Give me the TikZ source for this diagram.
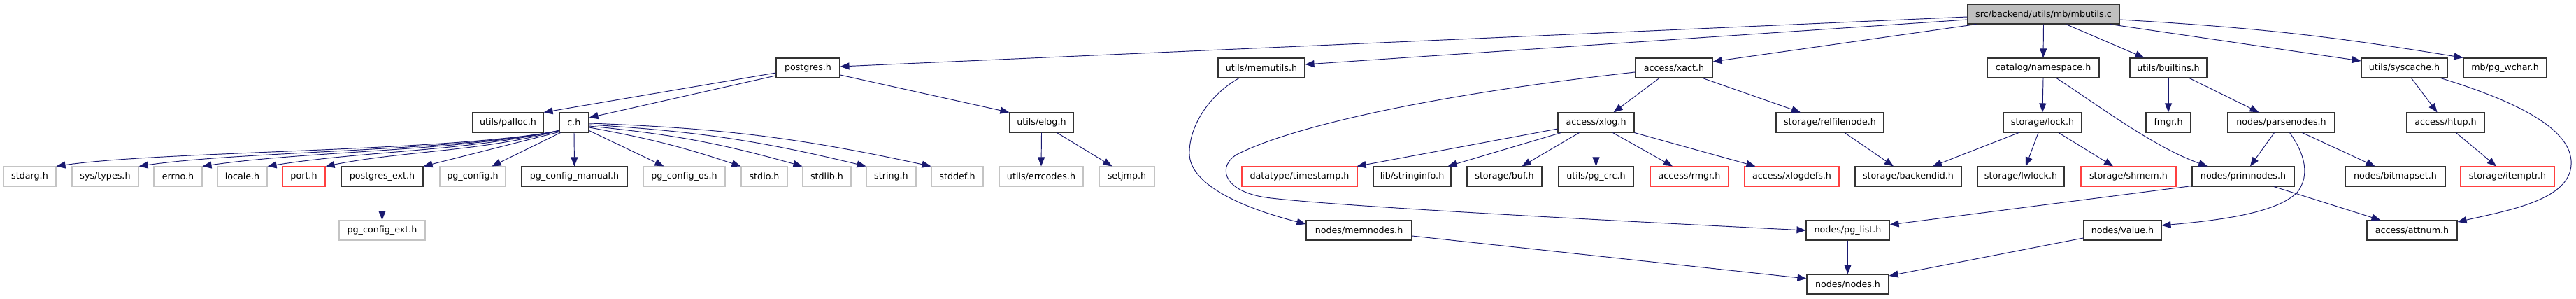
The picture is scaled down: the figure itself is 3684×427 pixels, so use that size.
\documentclass[tikz,border=0pt]{standalone}
\usepackage{fontspec}
\setmainfont{DejaVu Sans}
\usetikzlibrary{arrows.meta,calc}
\definecolor{edgecol}{HTML}{191970}
\definecolor{graybd}{HTML}{C4C4C4}
\definecolor{redbd}{HTML}{FF4040}
\definecolor{rootfill}{HTML}{BFBFBF}
\begin{document}
\begin{tikzpicture}[x=1pt,y=-1pt,
  nbox/.style={draw=black!80,line width=1.1pt,minimum height=28pt,inner sep=0pt,
     font=\fontsize{12.7}{14}\selectfont,fill=white},
  gbox/.style={nbox,draw=graybd},
  rbox/.style={nbox,draw=redbd},
  rootbox/.style={nbox,fill=rootfill},
  dep/.style={draw=edgecol,line width=0.95pt,-{Triangle[length=13pt,width=10pt]}}]
\useasboundingbox (0,0) rectangle (3684,427);
% row 0
\node[rootbox,minimum width=217pt] (root) at (2922.5,20) {src/backend/utils/mb/mbutils.c};
% row 1
\node[nbox,minimum width=91pt]  (pgh)       at (1155.5,97) {postgres.h};
\node[nbox,minimum width=124pt] (memutils)  at (1804,97)   {utils/memutils.h};
\node[nbox,minimum width=110pt] (xact)      at (2394,97)   {access/xact.h};
\node[nbox,minimum width=160pt] (namespace) at (2922,97)   {catalog/namespace.h};
\node[nbox,minimum width=110pt] (builtins)  at (3101,97)   {utils/builtins.h};
\node[nbox,minimum width=123pt] (syscache)  at (3438.5,97) {utils/syscache.h};
\node[nbox,minimum width=119pt] (pgwchar)   at (3582.5,97) {mb/pg\_wchar.h};
% row 2
\node[nbox,minimum width=101pt] (palloc)      at (726.5,175)  {utils/palloc.h};
\node[nbox,minimum width=42pt]  (ch)          at (821,175)    {c.h};
\node[nbox,minimum width=91pt]  (elog)        at (1489.5,175) {utils/elog.h};
\node[nbox,minimum width=109pt] (xlog)        at (2282.5,175) {access/xlog.h};
\node[nbox,minimum width=154pt] (relfilenode) at (2617,175)   {storage/relfilenode.h};
\node[nbox,minimum width=112pt] (lock)        at (2921,175)   {storage/lock.h};
\node[nbox,minimum width=64pt]  (fmgr)        at (3101,175)   {fmgr.h};
\node[nbox,minimum width=153pt] (parsenodes)  at (3262.5,175) {nodes/parsenodes.h};
\node[nbox,minimum width=111pt] (htup)        at (3497.5,175) {access/htup.h};
% row 3
\node[gbox,minimum width=75pt]  (stdarg)     at (42.5,252)   {stdarg.h};
\node[gbox,minimum width=95pt]  (systypes)   at (150.5,252)  {sys/types.h};
\node[gbox,minimum width=69pt]  (errno)      at (254.5,252)  {errno.h};
\node[gbox,minimum width=71pt]  (locale)     at (346.5,252)  {locale.h};
\node[rbox,minimum width=61pt]  (port)       at (434.5,252)  {port.h};
\node[nbox,minimum width=117pt] (pgext)      at (546.5,252)  {postgres\_ext.h};
\node[gbox,minimum width=94pt]  (pgconfig)   at (676,252)    {pg\_config.h};
\node[nbox,minimum width=151pt] (pgcm)       at (821.5,252)  {pg\_config\_manual.h};
\node[gbox,minimum width=117pt] (pgcos)      at (978.5,252)  {pg\_config\_os.h};
\node[gbox,minimum width=66pt]  (stdio)      at (1093,252)   {stdio.h};
\node[gbox,minimum width=69pt]  (stdlib)     at (1182.5,252) {stdlib.h};
\node[gbox,minimum width=71pt]  (string)     at (1274.5,252) {string.h};
\node[gbox,minimum width=74pt]  (stddef)     at (1369,252)   {stddef.h};
\node[gbox,minimum width=120pt] (errcodes)   at (1489,252)   {utils/errcodes.h};
\node[gbox,minimum width=79pt]  (setjmp)     at (1611.5,252) {setjmp.h};
\node[rbox,minimum width=165pt] (timestamp)  at (1858.5,252) {datatype/timestamp.h};
\node[nbox,minimum width=111pt] (stringinfo) at (2019.5,252) {lib/stringinfo.h};
\node[nbox,minimum width=107pt] (buf)        at (2151.5,252) {storage/buf.h};
\node[nbox,minimum width=107pt] (pgcrc)      at (2282.5,252) {utils/pg\_crc.h};
\node[rbox,minimum width=112pt] (rmgr)       at (2416,252)   {access/rmgr.h};
\node[rbox,minimum width=135pt] (xlogdefs)   at (2562.5,252) {access/xlogdefs.h};
\node[nbox,minimum width=152pt] (backendid)  at (2729,252)   {storage/backendid.h};
\node[nbox,minimum width=124pt] (lwlock)     at (2890,252)   {storage/lwlock.h};
\node[rbox,minimum width=136pt] (shmem)      at (3044,252)   {storage/shmem.h};
\node[nbox,minimum width=146pt] (primnodes)  at (3208,252)   {nodes/primnodes.h};
\node[nbox,minimum width=143pt] (bitmapset)  at (3425.5,252) {nodes/bitmapset.h};
\node[rbox,minimum width=134pt] (itemptr)    at (3586,252)   {storage/itemptr.h};
% row 4
\node[gbox,minimum width=123pt] (pgcext)   at (546.5,329)  {pg\_config\_ext.h};
\node[nbox,minimum width=151pt] (memnodes) at (1943.5,329) {nodes/memnodes.h};
\node[nbox,minimum width=119pt] (pglist)   at (2642.5,329) {nodes/pg\_list.h};
\node[nbox,minimum width=111pt] (value)    at (3035.5,329) {nodes/value.h};
\node[nbox,minimum width=129pt] (attnum)   at (3449.5,329) {access/attnum.h};
% row 5
\node[nbox,minimum width=117pt] (nodesh) at (2642.5,406) {nodes/nodes.h};

% ---- edges from root
\draw[dep] ($(root.west)+(0,4)$) -- ($(pgh.east)+(0,-2)$);
\draw[dep] ($(root.west)+(0,8)$) -- ($(memutils.east)+(0,-5)$);
\draw[dep] ($(root.south west)+(13,0)$) -- ($(xact.east)+(0,-9)$);
\draw[dep] (root.south) -- (namespace.north);
\draw[dep] ($(root.south)+(32,0)$) -- ($(builtins.north west)+(21,0)$);
\draw[dep] ($(root.south east)+(-14,0)$) -- ($(syscache.west)+(0,-10)$);
\draw[dep] ($(root.east)+(0,8)$) to[bend left=3] (pgwchar.north west);
% ---- postgres.h
\draw[dep] ($(pgh.west)+(0,7)$) -- (palloc.north east);
\draw[dep] ($(pgh.west)+(0,11)$) -- ($(ch.east)+(0,-7)$);
\draw[dep] ($(pgh.east)+(0,10)$) -- (elog.north west);
% ---- c.h left
\draw[dep] ($(ch.south west)+(0,-3)$) .. controls +(-150,30) and +(150,-22) .. (stdarg.north east);
\draw[dep] ($(ch.south west)+(0,-3)$) .. controls +(-150,30) and +(150,-22) .. (systypes.north east);
\draw[dep] ($(ch.south west)+(0,-3)$) .. controls +(-150,30) and +(150,-22) .. (errno.north east);
\draw[dep] ($(ch.south west)+(0,-3)$) .. controls +(-139,30) and +(139,-22) .. (locale.north east);
\draw[dep] ($(ch.south west)+(0,-3)$) .. controls +(-111,30) and +(111,-22) .. (port.north east);
\draw[dep] ($(ch.south west)+(0,-1)$) .. controls +(-60,15) and +(60,-15) .. (pgext.north east);
\draw[dep] ($(ch.south west)+(2,0)$) -- ($(pgconfig.north east)+(-20,0)$);
\draw[dep] (ch.south) -- (pgcm.north);
% ---- c.h right
\draw[dep] ($(ch.south east)+(0,-3)$) -- ($(pgcos.north west)+(30,0)$);
\draw[dep] ($(ch.east)+(0,7)$) to[bend left=4] (stdio.north west);
\draw[dep] ($(ch.east)+(0,5)$) to[bend left=5] (stdlib.north west);
\draw[dep] ($(ch.east)+(0,3)$) to[bend left=5] (string.north west);
\draw[dep] ($(ch.east)+(0,1)$) to[bend left=5] (stddef.north west);
% ---- others
\draw[dep] (pgext.south) -- (pgcext.north);
\draw[dep] (elog.south) -- (errcodes.north);
\draw[dep] ($(elog.south)+(22,0)$) -- ($(setjmp.north)+(-21,0)$);
\draw[dep] ($(memutils.south)+(-32,0)$) .. controls (1730,135) and (1700,180) .. (1701,220)
   .. controls (1702,262) and (1770,295) .. ($(memnodes.west)+(0,-9)$);
\draw[dep] ($(xact.south)+(-21,0)$) -- ($(xlog.north)+(25,0)$);
\draw[dep] ($(xact.south)+(41,0)$) -- ($(relfilenode.north)+(-42,0)$);
\draw[dep] ($(xact.west)+(0,6)$) .. controls (2050,135) and (1850,180) .. (1770,220)
   .. controls (1742,235) and (1745,272) .. (1810,282)
   .. controls (1900,294) and (2300,315) .. (pglist.west);
\draw[dep] ($(xlog.west)+(0,9)$) -- ($(timestamp.north east)+(-1,0)$);
\draw[dep] ($(xlog.south west)+(5,0)$) -- ($(stringinfo.north east)+(-5,0)$);
\draw[dep] ($(xlog.south)+(-24,0)$) -- ($(buf.north)+(25,0)$);
\draw[dep] (xlog.south) -- (pgcrc.north);
\draw[dep] ($(xlog.south)+(24,0)$) -- ($(rmgr.north)+(-24,0)$);
\draw[dep] (xlog.south east) -- ($(xlogdefs.north)+(-52,0)$);
\draw[dep] ($(relfilenode.south)+(21,0)$) -- ($(backendid.north)+(-21,0)$);
\draw[dep] (namespace.south) -- (lock.north);
\draw[dep] ($(namespace.south)+(19,0)$) .. controls (3000,150) and (3080,210) .. ($(primnodes.north)+(-51,0)$);
\draw[dep] ($(lock.south)+(-34,0)$) -- ($(backendid.north)+(35,0)$);
\draw[dep] ($(lock.south)+(-6,0)$) -- ($(lwlock.north)+(7,0)$);
\draw[dep] ($(lock.south)+(23,0)$) -- ($(shmem.north)+(-22,0)$);
\draw[dep] (builtins.south) -- (fmgr.north);
\draw[dep] ($(builtins.south)+(30,0)$) -- ($(parsenodes.north)+(-32,0)$);
\draw[dep] ($(parsenodes.south)+(-10,0)$) -- ($(primnodes.north)+(10,0)$);
\draw[dep] ($(parsenodes.south)+(12,0)$) .. controls (3295,218) and (3305,250) .. (3285,275)
   .. controls (3255,305) and (3170,315) .. ($(value.east)+(0,-7)$);
\draw[dep] ($(parsenodes.south)+(30,0)$) -- ($(bitmapset.north)+(-29,0)$);
\draw[dep] ($(primnodes.south west)+(0,-1)$) -- ($(pglist.east)+(0,-8)$);
\draw[dep] ($(primnodes.south)+(44,0)$) -- ($(attnum.north)+(-45,0)$);
\draw[dep] (pglist.south) -- (nodesh.north);
\draw[dep] ($(value.west)+(0,11)$) -- ($(nodesh.east)+(0,-12)$);
\draw[dep] ($(memnodes.east)+(0,8)$) -- ($(nodesh.west)+(0,-8)$);
\draw[dep] ($(syscache.south)+(10,0)$) -- ($(htup.north)+(-12,0)$);
\draw[dep] ($(syscache.south)+(52,0)$) .. controls (3600,145) and (3680,185) .. (3677,235)
   .. controls (3675,285) and (3590,300) .. ($(attnum.east)+(0,-12)$);
\draw[dep] ($(htup.south)+(15,0)$) -- ($(itemptr.north)+(-16,0)$);
\end{tikzpicture}
\end{document}
